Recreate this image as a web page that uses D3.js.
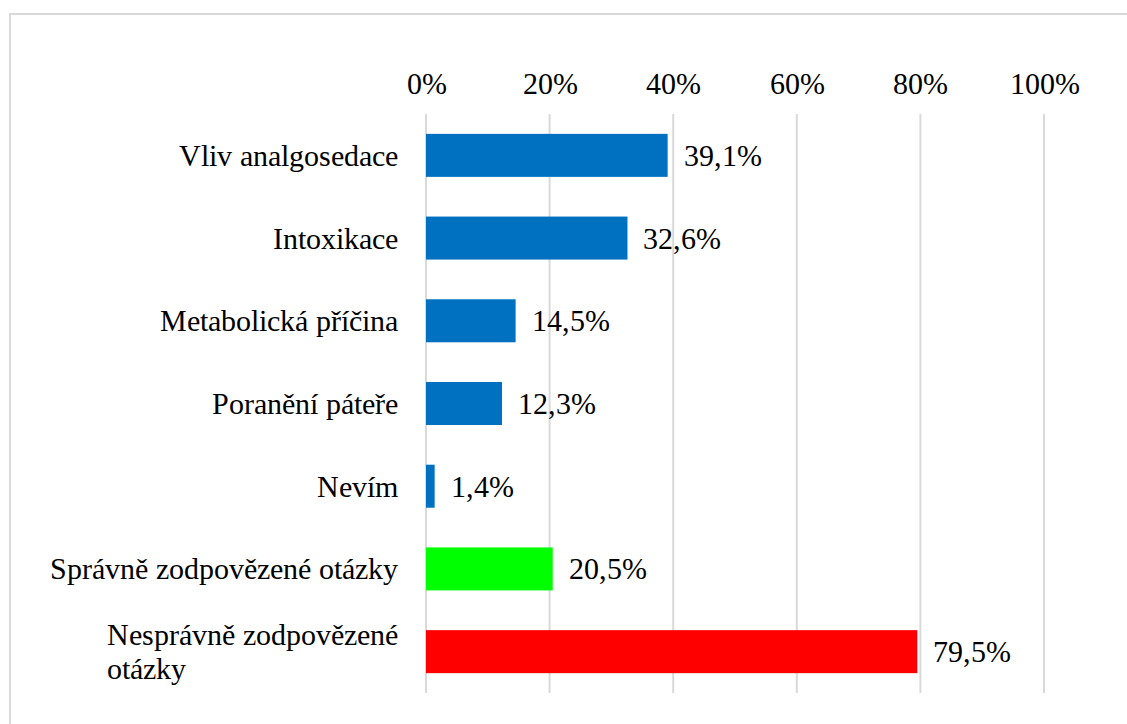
<!DOCTYPE html>
<html>
<head>
<meta charset="utf-8">
<script src="https://cdn.jsdelivr.net/npm/d3@7"></script>
<style>
  @font-face { font-family: "ChartSerif"; src: local("Liberation Serif"), local("LiberationSerif"), local("Times New Roman"); }
</style>
</head>
<body style="margin:0">
<script>
let categories = [
  ["Vliv analgosedace"],
  ["Intoxikace"],
  ["Metabolická příčina"],
  ["Poranění páteře"],
  ["Nevím"],
  ["Správně zodpovězené otázky"],
  ["Nesprávně zodpovězené", "otázky"]
]
let values = [39.1, 32.6, 14.5, 12.3, 1.4, 20.5, 79.5]
let colors = ["#0070C0", "#0070C0", "#0070C0", "#0070C0", "#0070C0", "#00FF00", "#FF0000"]
let ticks = [0, 20, 40, 60, 80, 100]

let W = 1127, H = 724
let FONT = "ChartSerif, 'Liberation Serif', serif"
let svg = d3.select("body").append("svg").attr("width", W).attr("height", H)
  .style("font-family", FONT)

// chart border
svg.append("rect")
  .attr("x", 10).attr("y", 14)
  .attr("width", W + 20).attr("height", H + 20)
  .attr("fill", "none").attr("stroke", "#d9d9d9").attr("stroke-width", 2)

let x = d3.scaleLinear().domain([0, 100]).range([426, 1044])
let y = d3.scaleBand().domain(d3.range(categories.length)).range([114, 693]).paddingInner(0.48).paddingOuter(0.24)

// gridlines
svg.append("g").selectAll("line")
  .data(ticks)
  .join("line")
  .attr("x1", d => x(d)).attr("x2", d => x(d))
  .attr("y1", 114).attr("y2", 693)
  .attr("stroke", "#d9d9d9").attr("stroke-width", 2)

// top axis labels
let axis = svg.append("g").attr("transform", "translate(0,98)")
  .call(d3.axisTop(x).tickValues(ticks).tickFormat(d => d + "%").tickSize(0).tickPadding(0))
axis.attr("font-family", null).attr("font-size", null)
axis.select(".domain").remove()
axis.selectAll("text")
  .style("font-family", FONT)
  .style("font-size", "30px")
  .attr("fill", "#000")
  .attr("dy", "-0.15em")

// bars
svg.append("g").selectAll("rect")
  .data(values)
  .join("rect")
  .attr("x", x(0))
  .attr("y", (d, i) => y(i))
  .attr("width", d => x(d) - x(0))
  .attr("height", y.bandwidth())
  .attr("fill", (d, i) => colors[i])

// value labels
svg.append("g").selectAll("text")
  .data(values)
  .join("text")
  .attr("x", d => x(d) + 16)
  .attr("y", (d, i) => y(i) + y.bandwidth() / 2)
  .attr("dy", "0.35em")
  .style("font-family", FONT)
  .style("font-size", "30px")
  .text(d => d.toFixed(1).replace(".", ",") + "%")

// category labels
let labelRight = 398
svg.append("g").selectAll("text")
  .data(categories)
  .join("text")
  .style("font-family", FONT)
  .style("font-size", "30px")
  .each(function(lines, i) {
    let t = d3.select(this)
    let cy = y(i) + y.bandwidth() / 2
    if (lines.length == 1) {
      t.attr("x", labelRight).attr("y", cy).attr("dy", "0.35em").attr("text-anchor", "end").text(lines[0])
    } else {
      let lh = 34
      t.attr("text-anchor", "end")
      t.selectAll("tspan").data(lines).join("tspan")
        .attr("y", (l, j) => cy + (j - (lines.length - 1) / 2) * lh)
        .attr("dy", "0.35em")
        .text(l => l)
      // left-align the block: second line starts where the first one does
      t.selectAll("tspan").attr("x", labelRight)
        .attr("text-anchor", (l, j) => j == 0 ? "end" : "start")
      let first = t.select("tspan").node()
      let w = first.getComputedTextLength()
      t.selectAll("tspan").filter((l, j) => j > 0).attr("x", labelRight - w)
    }
  })
</script>
</body>
</html>
